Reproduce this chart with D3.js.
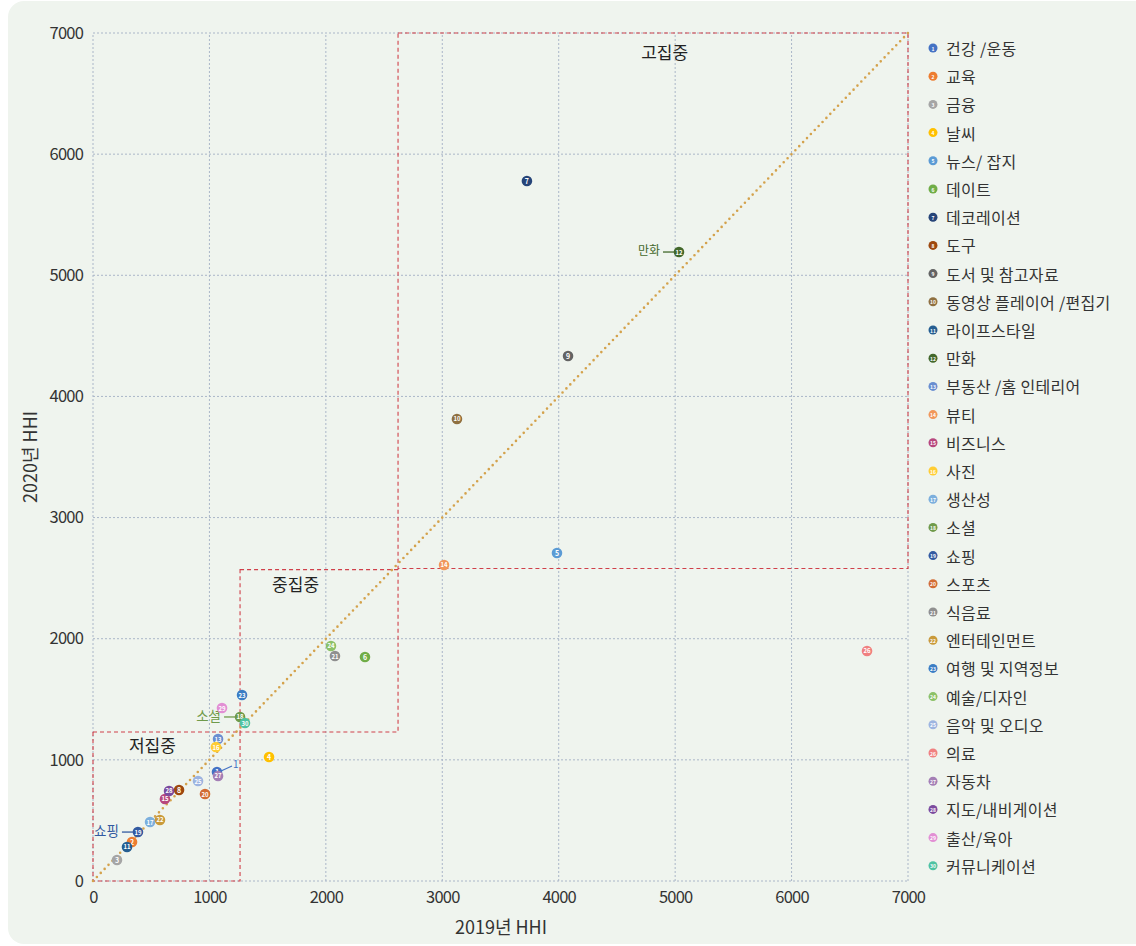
<!DOCTYPE html>
<html><head><meta charset="utf-8">
<script src="https://cdn.jsdelivr.net/npm/d3@7"></script>
<style>
html,body{margin:0;padding:0;background:#fff;}
svg{display:block;font-family:"Noto Sans CJK KR","Noto Sans",sans-serif;}
</style></head>
<body>
<svg id="chart" width="1136" height="946"></svg>
<script>
const categories = ["건강 /운동","교육","금융","날씨","뉴스/ 잡지","데이트","데코레이션","도구","도서 및 참고자료","동영상 플레이어 /편집기",
  "라이프스타일","만화","부동산 /홈 인테리어","뷰티","비즈니스","사진","생산성","소셜","쇼핑","스포츠",
  "식음료","엔터테인먼트","여행 및 지역정보","예술/디자인","음악 및 오디오","의료","자동차","지도/내비게이션","출산/육아","커뮤니케이션"];
const hhi2019 = [1065,335,206,1512,3985,2336,3727,739,4080,3126, 292,5033,1074,3015,618,1056,490,1263,386,962, 2078,575,1280,2044,902,6648,1074,653,1108,1305];
const hhi2020 = [900,322,173,1024,2708,1849,5778,751,4334,3814, 281,5192,1172,2609,677,1106,487,1354,404,718, 1857,504,1535,1940,825,1899,867,743,1428,1304];
const colors = ["#4472c4","#ed7d31","#a5a5a5","#ffc000","#5b9bd5","#70ad47","#264478","#9e480e","#636363","#8f7040",
  "#255e91","#43682b","#698ed0","#f1975a","#b7477e","#ffcd33","#7cafdd","#6f9a4a","#335aa1","#d26c34",
  "#8f8f8f","#c99a3a","#3b7dc4","#8cc168","#9db4e0","#f08080","#a47fb5","#7b4a9e","#e28fd4","#4ec2a2"];
const xTicks = [0,1000,2000,3000,4000,5000,6000,7000];
const yTicks = [0,1000,2000,3000,4000,5000,6000,7000];
// concentration zones [x0,x1,y0,y1]
const zoneNames = ["저집중","중집중","고집중"];
const zoneX0 = [0,1263,2620];
const zoneX1 = [1263,2620,7000];
const zoneY0 = [0,1230,2580];
const zoneY1 = [1230,2570,7000];
const zoneLabelX = [510,1740,4910];
const zoneLabelY = [1100,2430,6820];
// callouts: index, label text
const calloutIdx = [18,17,11,0];
const calloutText = ["쇼핑","소셜","만화","1"];

const svg = d3.select("#chart");
const W=1136,H=946;
svg.append("rect").attr("x",8).attr("y",1).attr("width",W-8+20).attr("height",943).attr("rx",16).attr("fill","#eff4ee");

const x = d3.scaleLinear().domain([0,7000]).range([93,908]);
const y = d3.scaleLinear().domain([0,7000]).range([881,33]);

const grid = svg.append("g");
xTicks.forEach(t=>grid.append("line").attr("x1",x(t)).attr("x2",x(t)).attr("y1",y(0)).attr("y2",y(7000))
  .attr("stroke","#aab6c8").attr("stroke-width",1).attr("stroke-dasharray","2 2"));
yTicks.forEach(t=>grid.append("line").attr("y1",y(t)).attr("y2",y(t)).attr("x1",x(0)).attr("x2",x(7000))
  .attr("stroke","#aab6c8").attr("stroke-width",1).attr("stroke-dasharray","2 2"));

// axes
const xAxis = d3.axisBottom(x).tickValues(xTicks).tickSize(0).tickPadding(10).tickFormat(d3.format("d"));
const gx = svg.append("g").attr("transform",`translate(0,${y(0)})`).call(xAxis);
const yAxis = d3.axisLeft(y).tickValues(yTicks).tickSize(0).tickPadding(10).tickFormat(d3.format("d"));
const gy = svg.append("g").attr("transform",`translate(${x(0)},0)`).call(yAxis);
[gx,gy].forEach(g=>{g.select(".domain").remove();
  g.selectAll("text").attr("fill","#333").style("font-size","16.5px").style("font-family","'Noto Sans CJK KR',sans-serif").style("letter-spacing","-0.8px");});

svg.append("text").attr("x",501).attr("y",934).attr("text-anchor","middle").attr("fill","#333")
  .style("font-size","18px").text("2019년 HHI");
svg.append("text").attr("transform","translate(37,457) rotate(-90)").attr("text-anchor","middle").attr("fill","#333")
  .style("font-size","18px").text("2020년 HHI");

// zones
zoneNames.forEach((n,i)=>{
  svg.append("rect").attr("x",x(zoneX0[i])).attr("y",y(zoneY1[i])).attr("width",x(zoneX1[i])-x(zoneX0[i]))
    .attr("height",y(zoneY0[i])-y(zoneY1[i])).attr("fill","none").attr("stroke","#d0404a").attr("stroke-width",1.1)
    .attr("stroke-dasharray","4 3");
  svg.append("text").attr("x",x(zoneLabelX[i])).attr("y",y(zoneLabelY[i])).attr("text-anchor","middle")
    .attr("dominant-baseline","middle").attr("fill","#222").style("font-size","17px").text(n);
});

// diagonal
svg.append("line").attr("x1",x(0)).attr("y1",y(0)).attr("x2",x(7000)).attr("y2",y(7000))
  .attr("stroke","#d4a24c").attr("stroke-width",2.6).attr("stroke-linecap","round").attr("stroke-dasharray","0 5.6");

// callouts
calloutIdx.forEach((k,j)=>{
  const px=x(hhi2019[k]), py=y(hhi2020[k]);
  const c = colors[k];
  if(j<3){
    svg.append("line").attr("x1",px-5).attr("y1",py).attr("x2",px-16).attr("y2",py).attr("stroke",c).attr("stroke-width",1.3);
    svg.append("text").attr("x",px-19).attr("y",py).attr("text-anchor","end").attr("dominant-baseline","middle")
      .attr("fill",c).style("font-size",j==2?"12px":"13.5px").text(calloutText[j]);
  } else {
    svg.append("line").attr("x1",px+4).attr("y1",py-1).attr("x2",px+15).attr("y2",py-6).attr("stroke",c).attr("stroke-width",1.3);
    svg.append("text").attr("x",px+16).attr("y",py-7).attr("dominant-baseline","middle")
      .attr("fill",c).style("font-size","10px").text(calloutText[j]);
  }
});

// points
const pts = svg.append("g");
hhi2019.forEach((v,i)=>{
  const g = pts.append("g").attr("transform",`translate(${x(v)},${y(hhi2020[i])})`);
  g.append("circle").attr("r",5.3).attr("fill",colors[i]);
  g.append("text").attr("text-anchor","middle").attr("dominant-baseline","central").attr("fill","#fff")
    .style("font-size",i>=9?"6px":"7px").style("font-weight","bold").text(i+1);
});

// legend
const leg = svg.append("g");
categories.forEach((c,i)=>{
  const ly = 48 + i*28.2;
  leg.append("circle").attr("cx",933).attr("cy",ly).attr("r",4.5).attr("fill",colors[i]);
  leg.append("text").attr("x",933).attr("y",ly).attr("text-anchor","middle").attr("dominant-baseline","central")
    .attr("fill","#fff").style("font-size","5px").style("font-weight","bold").text(i+1);
  leg.append("text").attr("x",946).attr("y",ly).attr("dominant-baseline","central").attr("fill","#333")
    .style("font-size","16px").style("letter-spacing","0.3px").text(c);
});
</script>
</body></html>
